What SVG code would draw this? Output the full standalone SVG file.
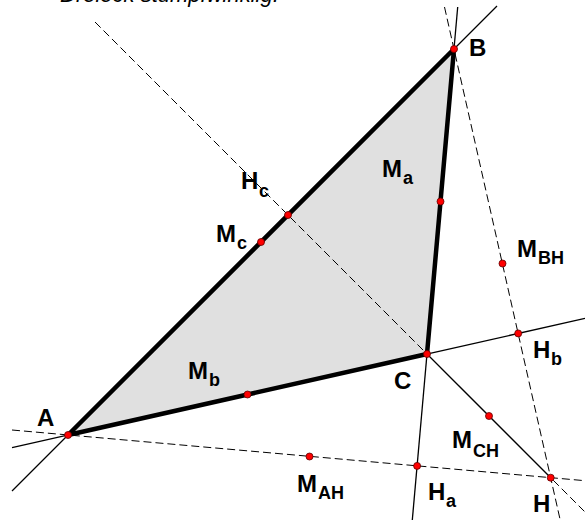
<svg xmlns="http://www.w3.org/2000/svg" width="585" height="520" viewBox="0 0 585 520">
<style>
.thin{stroke:#000;stroke-width:1.3;fill:none}
.dash{stroke:#000;stroke-width:1;fill:none;stroke-dasharray:8,4}
.edge{stroke:#000;stroke-width:4.5;fill:none;stroke-linecap:round}
.pt{fill:#ff0000;stroke:#600000;stroke-width:0.8}
.lbl{font-family:"Liberation Sans",Arial,sans-serif;font-weight:bold;font-size:24px;fill:#000}
.sub{font-size:18px}
</style>
<rect width="585" height="520" fill="#fff"/>
<text x="60" y="2" font-family="Liberation Sans,Arial,sans-serif" font-style="italic" font-size="22" fill="#000">Dreieck stumpfwinklig.</text>
<g id="triangle">
<polygon points="68,435 454,49 427,354" fill="#e0e0e0" stroke="none"/>
</g>
<g id="connectors">
<line class="thin" x1="12" y1="491" x2="497" y2="6"/>
<line class="thin" x1="457.7" y1="7" x2="412.3" y2="520"/>
<line class="thin" x1="12" y1="447.6" x2="585" y2="318.4"/>
<line class="thin" x1="427" y1="354" x2="550.7" y2="477.7" stroke-width="1"/>
<line class="dash" x1="95" y1="22" x2="585" y2="512"/>
<line class="dash" x1="12" y1="430" x2="585" y2="480.7"/>
<line class="dash" x1="444.5" y1="7" x2="560.2" y2="520"/>
<polygon class="edge" points="68,435 454,49 427,354" stroke-linejoin="round"/>
</g>
<g id="A"><circle class="pt" cx="68" cy="435" r="3.5"/><text class="lbl" x="37" y="426">A</text></g>
<g id="B"><circle class="pt" cx="454" cy="49" r="3.5"/><text class="lbl" x="469" y="56">B</text></g>
<g id="C"><circle class="pt" cx="427" cy="354" r="3.5"/><text class="lbl" x="394" y="389">C</text></g>
<g id="H"><circle class="pt" cx="550.7" cy="477.7" r="3.5"/><text class="lbl" x="533" y="512">H</text></g>
<g id="Ma"><circle class="pt" cx="440.5" cy="201.5" r="3.5"/><text class="lbl" x="382" y="177">M<tspan class="sub" x="403" y="184">a</tspan></text></g>
<g id="Mb"><circle class="pt" cx="247.5" cy="394.5" r="3.5"/><text class="lbl" x="188" y="379">M<tspan class="sub" x="209" y="386">b</tspan></text></g>
<g id="Mc"><circle class="pt" cx="261" cy="242" r="3.5"/><text class="lbl" x="216" y="242">M<tspan class="sub" x="237" y="249">c</tspan></text></g>
<g id="Ha"><circle class="pt" cx="417.1" cy="465.9" r="3.5"/><text class="lbl" x="428" y="500">H<tspan class="sub" x="446" y="507">a</tspan></text></g>
<g id="Hb"><circle class="pt" cx="518.2" cy="333.4" r="3.5"/><text class="lbl" x="533" y="358">H<tspan class="sub" x="551" y="365">b</tspan></text></g>
<g id="Hc"><circle class="pt" cx="288" cy="215" r="3.5"/><text class="lbl" x="241" y="189">H<tspan class="sub" x="259" y="197">c</tspan></text></g>
<g id="MAH"><circle class="pt" cx="309.5" cy="456.5" r="3.5"/><text class="lbl" x="297" y="492">M<tspan class="sub" x="318" y="499">AH</tspan></text></g>
<g id="MBH"><circle class="pt" cx="502.5" cy="263.5" r="3.5"/><text class="lbl" x="517" y="257">M<tspan class="sub" x="538" y="264">BH</tspan></text></g>
<g id="MCH"><circle class="pt" cx="489" cy="416" r="3.5"/><text class="lbl" x="452" y="448">M<tspan class="sub" x="473" y="457">CH</tspan></text></g>
</svg>
